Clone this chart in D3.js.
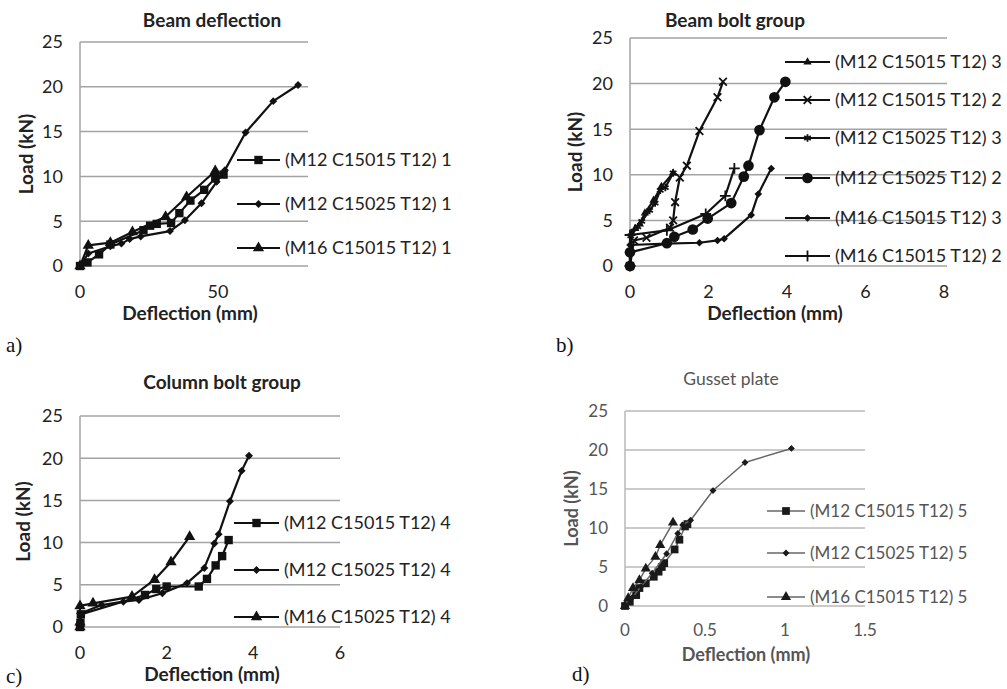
<!DOCTYPE html>
<html>
<head>
<meta charset="utf-8">
<script src="https://cdn.jsdelivr.net/npm/d3@7"></script>
<style>
  body { margin: 0; background: #fff; }
  svg { display: block; font-family: Lato, "Open Sans", sans-serif; }
</style>
</head>
<body>
<svg id="chart" width="1007" height="689"></svg>
<script>
// ---- data ----
// a) Beam deflection
var a_sq_x = [0, 2.7, 6.9, 11, 23, 25.4, 27.8, 33, 36, 40, 45, 49, 52];
var a_sq_y = [0, 0.4, 1.3, 2.4, 4.0, 4.5, 4.7, 4.8, 5.9, 7.3, 8.5, 9.8, 10.2];
var a_di_x = [0, 3, 11, 15, 18, 22, 32.6, 38, 44, 49.5, 52.5, 60, 70, 79];
var a_di_y = [0, 1.4, 2.2, 2.5, 3.0, 3.3, 3.9, 5.1, 7.0, 9.4, 10.7, 14.9, 18.4, 20.2];
var a_tr_x = [0, 3, 11, 19, 31, 38.6, 49];
var a_tr_y = [0, 2.3, 2.6, 3.8, 5.5, 7.7, 10.6];

// b) Beam bolt group
var b_tr_x = [0, 0, 0.04, 0.13, 0.25, 0.38, 0.6, 0.8, 1.1];
var b_tr_y = [0, 0.3, 3.6, 4.1, 4.6, 5.8, 7.2, 8.7, 10.2];
var b_xm_x = [0, 0.1, 0.42, 1.02, 1.1, 1.15, 1.27, 1.45, 1.77, 2.23, 2.37];
var b_xm_y = [0, 2.8, 3.1, 4.2, 5.0, 7.0, 9.7, 11, 14.8, 18.5, 20.2];
var b_st_x = [0, 0.02, 0.2, 0.3, 0.5, 0.64, 0.77, 0.9, 1.1];
var b_st_y = [0, 3.3, 4.3, 4.9, 6.1, 6.9, 8.3, 8.6, 10.2];
var b_ci_x = [0, 0, 0.94, 1.13, 1.6, 1.98, 2.58, 2.9, 3.02, 3.3, 3.68, 3.96];
var b_ci_y = [0, 1.5, 2.5, 3.2, 4.0, 5.2, 6.9, 9.8, 11, 14.9, 18.5, 20.2];
var b_di_x = [0, 0, 0.92, 1.77, 2.23, 2.4, 3.09, 3.27, 3.6];
var b_di_y = [0, 2.3, 2.45, 2.55, 2.8, 3.0, 5.6, 7.9, 10.7];
var b_pl_x = [0, 0, 0.94, 1.93, 2.43, 2.66];
var b_pl_y = [0, 3.4, 3.9, 5.7, 7.7, 10.7];

// c) Column bolt group
var c_sq_x = [0, 0.01, 0.02, 1.5, 1.76, 2.0, 2.74, 2.93, 3.13, 3.28, 3.43];
var c_sq_y = [0, 0.5, 1.5, 3.8, 4.5, 4.8, 4.8, 5.7, 7.3, 8.4, 10.3];
var c_di_x = [0, 0, 0.5, 1.0, 1.36, 1.9, 2.47, 2.87, 3.1, 3.2, 3.46, 3.73, 3.9];
var c_di_y = [0, 1.6, 2.6, 3.0, 3.2, 4.0, 5.2, 7.0, 9.9, 11, 14.9, 18.5, 20.3];
var c_tr_x = [0, 0, 0, 0.3, 1.2, 1.72, 2.1, 2.53];
var c_tr_y = [0, 0.55, 2.5, 2.8, 3.6, 5.6, 7.7, 10.7];

// d) Gusset plate
var d_sq_x = [0, 0.03, 0.07, 0.09, 0.13, 0.18, 0.21, 0.23, 0.245, 0.31, 0.34, 0.375, 0.39];
var d_sq_y = [0, 0.55, 1.4, 2.3, 2.9, 3.75, 4.4, 5.0, 5.5, 7.25, 8.5, 10.2, 10.5];
var d_di_x = [0, 0.02, 0.05, 0.1, 0.17, 0.26, 0.33, 0.36, 0.41, 0.55, 0.75, 1.04];
var d_di_y = [0, 0.6, 1.2, 2.5, 4.2, 6.7, 9.3, 10.4, 11, 14.8, 18.4, 20.2];
var d_tr_x = [0, 0.02, 0.05, 0.09, 0.13, 0.19, 0.22, 0.3];
var d_tr_y = [0, 1.0, 2.3, 3.3, 4.8, 6.3, 7.8, 10.7];

var yTicks = [0, 5, 10, 15, 20, 25];
var a_xTicks = [0, 50];
var b_xTicks = [0, 2, 4, 6, 8];
var c_xTicks = [0, 2, 4, 6];
var d_xTicks = [0, 0.5, 1, 1.5];

var a_names = ["(M12 C15015 T12) 1", "(M12 C15025 T12) 1", "(M16 C15015 T12) 1"];
var b_names = ["(M12 C15015 T12) 3", "(M12 C15015 T12) 2", "(M12 C15025 T12) 3",
               "(M12 C15025 T12) 2", "(M16 C15015 T12) 3", "(M16 C15015 T12) 2"];
var c_names = ["(M12 C15015 T12) 4", "(M12 C15025 T12) 4", "(M16 C15025 T12) 4"];
var d_names = ["(M12 C15015 T12) 5", "(M12 C15025 T12) 5", "(M16 C15015 T12) 5"];

function zipXY(xs, ys) {
    return xs.map(function(x, i) { return {x: x, y: ys[i]}; });
}

var svg = d3.select("#chart");

var strokeSymbols = {times: 1, asterisk: 1, plus: 1};

function symbolFor(kind, size) {
    var t = {
        square: d3.symbolSquare,
        diamond: d3.symbolDiamond2 || d3.symbolSquare,
        triangle: d3.symbolTriangle,
        circle: d3.symbolCircle,
        times: d3.symbolTimes || d3.symbolCross,
        asterisk: d3.symbolAsterisk || d3.symbolStar,
        plus: d3.symbolPlus || d3.symbolCross
    }[kind];
    return d3.symbol().type(t).size(size);
}

function drawMarker(g, kind, size, x, y, col) {
    var p = g.append("path")
        .attr("d", symbolFor(kind, size)())
        .attr("transform", "translate(" + x + "," + y + ")");
    if (strokeSymbols[kind]) {
        p.attr("fill", "none").attr("stroke", col).attr("stroke-width", 1.8);
    } else {
        p.attr("fill", col);
    }
}

function drawPanel(cfg) {
    var x = d3.scaleLinear().domain(cfg.xDomain).range([cfg.left, cfg.right]);
    var y = d3.scaleLinear().domain([0, 25]).range([cfg.bottom, cfg.top]);
    var g = svg.append("g");
    var txt = cfg.textColor;

    // gridlines
    g.selectAll(null).data(yTicks).enter().append("line")
        .attr("x1", cfg.left).attr("x2", cfg.right)
        .attr("y1", function(d) { return y(d); })
        .attr("y2", function(d) { return y(d); })
        .attr("stroke", cfg.gridColor).attr("stroke-width", 1.5);

    g.append("line")
        .attr("x1", cfg.left).attr("x2", cfg.left)
        .attr("y1", cfg.top).attr("y2", cfg.bottom)
        .attr("stroke", cfg.gridColor).attr("stroke-width", 1.5);

    // tick labels
    g.selectAll(null).data(yTicks).enter().append("text")
        .attr("x", cfg.left - 17)
        .attr("y", function(d) { return y(d); })
        .attr("dy", "0.36em")
        .attr("text-anchor", "end")
        .attr("font-size", cfg.tickSize)
        .attr("fill", txt)
        .text(function(d) { return d; });

    g.selectAll(null).data(cfg.xTicks).enter().append("text")
        .attr("x", function(d) { return x(d); })
        .attr("y", cfg.bottom + cfg.xTickGap)
        .attr("dy", "0.36em")
        .attr("text-anchor", "middle")
        .attr("font-size", cfg.tickSize)
        .attr("fill", txt)
        .text(function(d) { return d; });

    // titles
    g.append("text")
        .attr("x", cfg.titleX).attr("y", cfg.titleY).attr("dy", "0.36em")
        .attr("text-anchor", "middle")
        .attr("font-size", cfg.titleSize)
        .attr("font-weight", cfg.titleWeight)
        .attr("fill", txt)
        .text(cfg.title);

    g.append("text")
        .attr("transform", "translate(" + cfg.yLabelX + "," + ((cfg.top + cfg.bottom) / 2) + ") rotate(-90)")
        .attr("dy", "0.36em")
        .attr("text-anchor", "middle")
        .attr("font-size", cfg.labelSize).attr("font-weight", "bold")
        .attr("fill", txt)
        .text("Load (kN)");

    g.append("text")
        .attr("x", cfg.xLabelX).attr("y", cfg.bottom + cfg.xLabelGap).attr("dy", "0.36em")
        .attr("text-anchor", "middle")
        .attr("font-size", cfg.labelSize).attr("font-weight", "bold")
        .attr("fill", txt)
        .text("Deflection (mm)");

    g.append("text")
        .attr("x", cfg.tagX).attr("y", cfg.tagY).attr("dy", "0.36em")
        .attr("font-family", "'Liberation Serif', 'DejaVu Serif', serif")
        .attr("font-size", 21)
        .attr("fill", "#111")
        .text(cfg.tag);

    // series
    var line = d3.line().x(function(d) { return x(d.x); }).y(function(d) { return y(d.y); });
    cfg.series.forEach(function(s) {
        var pts = zipXY(s.xs, s.ys);
        g.append("path")
            .datum(pts)
            .attr("d", line)
            .attr("fill", "none")
            .attr("stroke", cfg.lineColor)
            .attr("stroke-width", cfg.lineWidth)
            .attr("stroke-linejoin", "round");
        pts.forEach(function(p) {
            drawMarker(g, s.marker, s.size, x(p.x), y(p.y), cfg.markerColor);
        });
    });

    // legend
    cfg.series.forEach(function(s, i) {
        var ly = cfg.legendY[i];
        g.append("line")
            .attr("x1", cfg.legendX).attr("x2", cfg.legendX + cfg.legendLen)
            .attr("y1", ly).attr("y2", ly)
            .attr("stroke", cfg.lineColor).attr("stroke-width", cfg.lineWidth);
        drawMarker(g, s.marker, s.size, cfg.legendX + cfg.legendLen / 2, ly, cfg.markerColor);
        g.append("text")
            .attr("x", cfg.legendX + cfg.legendLen + 5).attr("y", ly).attr("dy", "0.36em")
            .attr("font-size", cfg.legendSize)
            .attr("fill", txt)
            .text(cfg.names[i]);
    });
}

var base = {
    gridColor: "#a3a3a3", textColor: "#222", lineColor: "#111", markerColor: "#111",
    lineWidth: 2.2, tickSize: 18, titleSize: 19, titleWeight: "bold", legendSize: 18,
    labelSize: 19, xTickGap: 26, xLabelGap: 47
};

drawPanel(Object.assign({}, base, {
    left: 80, right: 308, top: 42, bottom: 266,
    xDomain: [0, 82.6], xTicks: a_xTicks,
    title: "Beam deflection", titleX: 212, titleY: 20,
    yLabelX: 26, xLabelX: 190, tag: "a)", tagX: 6, tagY: 344,
    legendX: 237, legendLen: 43, legendY: [160, 204, 248], names: a_names,
    series: [
        {xs: a_sq_x, ys: a_sq_y, marker: "square", size: 70},
        {xs: a_di_x, ys: a_di_y, marker: "diamond", size: 40},
        {xs: a_tr_x, ys: a_tr_y, marker: "triangle", size: 55}
    ]
}));

drawPanel(Object.assign({}, base, {
    left: 630, right: 947, top: 38, bottom: 266,
    xDomain: [0, 8.08], xTicks: b_xTicks,
    title: "Beam bolt group", titleX: 735, titleY: 20,
    yLabelX: 575, xLabelX: 775, tag: "b)", tagX: 556, tagY: 344,
    legendX: 785, legendLen: 45, legendY: [62, 100, 138, 178, 218, 256], names: b_names,
    series: [
        {xs: b_tr_x, ys: b_tr_y, marker: "triangle", size: 30},
        {xs: b_xm_x, ys: b_xm_y, marker: "times", size: 40},
        {xs: b_st_x, ys: b_st_y, marker: "asterisk", size: 40},
        {xs: b_ci_x, ys: b_ci_y, marker: "circle", size: 90},
        {xs: b_di_x, ys: b_di_y, marker: "diamond", size: 36},
        {xs: b_pl_x, ys: b_pl_y, marker: "plus", size: 40}
    ]
}));

drawPanel(Object.assign({}, base, {
    left: 80, right: 340, top: 416, bottom: 627,
    xDomain: [0, 6], xTicks: c_xTicks,
    title: "Column bolt group", titleX: 222, titleY: 382,
    yLabelX: 23, xLabelX: 212, tag: "c)", tagX: 6, tagY: 675,
    legendX: 234, legendLen: 45, legendY: [523, 570, 617], names: c_names,
    series: [
        {xs: c_sq_x, ys: c_sq_y, marker: "square", size: 70},
        {xs: c_di_x, ys: c_di_y, marker: "diamond", size: 40},
        {xs: c_tr_x, ys: c_tr_y, marker: "triangle", size: 55}
    ]
}));

drawPanel(Object.assign({}, base, {
    left: 625, right: 865, top: 411, bottom: 606,
    gridColor: "#b8b8b8", textColor: "#555", lineColor: "#666", markerColor: "#1a1a1a",
    lineWidth: 1.5, tickSize: 17, titleSize: 17.5, titleWeight: "normal", legendSize: 17,
    labelSize: 18, xTickGap: 24, xLabelGap: 49,
    xDomain: [0, 1.5], xTicks: d_xTicks,
    title: "Gusset plate", titleX: 731, titleY: 379,
    yLabelX: 572, xLabelX: 746, tag: "d)", tagX: 572, tagY: 673,
    legendX: 767, legendLen: 38, legendY: [511, 553, 597], names: d_names,
    series: [
        {xs: d_sq_x, ys: d_sq_y, marker: "square", size: 60},
        {xs: d_di_x, ys: d_di_y, marker: "diamond", size: 30},
        {xs: d_tr_x, ys: d_tr_y, marker: "triangle", size: 45}
    ]
}));
</script>
</body>
</html>
